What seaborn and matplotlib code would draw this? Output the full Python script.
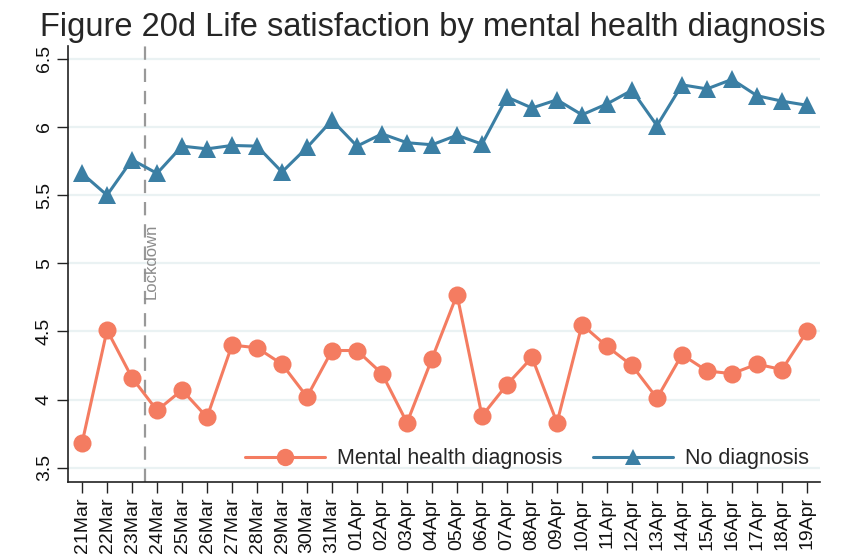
import matplotlib
matplotlib.use("Agg")
import matplotlib.pyplot as plt
import numpy as np
import pandas as pd
import seaborn as sns

# Daily dates (21 March - 19 April)
dates = ["21Mar", "22Mar", "23Mar", "24Mar", "25Mar", "26Mar", "27Mar", "28Mar",
         "29Mar", "30Mar", "31Mar", "01Apr", "02Apr", "03Apr", "04Apr", "05Apr",
         "06Apr", "07Apr", "08Apr", "09Apr", "10Apr", "11Apr", "12Apr", "13Apr",
         "14Apr", "15Apr", "16Apr", "17Apr", "18Apr", "19Apr"]

# Mean life satisfaction, respondents with a mental health diagnosis
mental_health = [3.68, 4.51, 4.16, 3.92, 4.07, 3.87, 4.40, 4.38, 4.26, 4.02,
                 4.36, 4.36, 4.19, 3.83, 4.30, 4.77, 3.88, 4.11, 4.31, 3.83,
                 4.55, 4.39, 4.25, 4.01, 4.33, 4.21, 4.19, 4.26, 4.22, 4.50]

# Mean life satisfaction, respondents with no diagnosis
no_diagnosis = [5.66, 5.50, 5.76, 5.66, 5.86, 5.84, 5.865, 5.86, 5.67, 5.85,
                6.05, 5.86, 5.95, 5.885, 5.87, 5.94, 5.875, 6.22, 6.14, 6.20,
                6.09, 6.17, 6.27, 6.01, 6.31, 6.28, 6.35, 6.23, 6.19, 6.16]

series_names = ["Mental health diagnosis", "No diagnosis"]
y_ticks = [3.5, 4, 4.5, 5, 5.5, 6, 6.5]
y_tick_labels = ["3.5", "4", "4.5", "5", "5.5", "6", "6.5"]
lockdown_pos = 2.5

orange = "#F47C61"
blue = "#3B7FA4"

sns.set_theme(style="white")
plt.rcParams["font.family"] = ["Liberation Sans", "DejaVu Sans"]

df = pd.DataFrame({
    "day": list(range(len(dates))) * 2,
    "value": mental_health + no_diagnosis,
    "group": [series_names[0]] * len(dates) + [series_names[1]] * len(dates),
})

fig = plt.figure(figsize=(8.43, 5.56), dpi=100)
ax = fig.add_axes([0.0807, 0.1331, 0.892, 0.7842])

for yt in y_ticks:
    ax.axhline(yt, color="#EAF2F3", lw=1.6, zorder=0)

sns.lineplot(data=df, x="day", y="value", hue="group", style="group",
             palette={series_names[0]: orange, series_names[1]: blue},
             markers={series_names[0]: "o", series_names[1]: "^"},
             dashes=False, lw=2.2, markersize=13, markeredgewidth=0,
             ax=ax, legend=False, zorder=3)

# Lockdown marker
ax.axvline(lockdown_pos, color="#999999", lw=1.6, ls=(0, (6, 4)), zorder=1)
ax.text(lockdown_pos - 0.04, 5.29, "Lockdown", rotation=90, ha="left", va="top",
        fontsize=12, color="#8C8C8C")

ax.set_xlim(-0.56, len(dates) - 1 + 0.52)
ax.set_ylim(3.395, 6.595)
ax.set_xticks(range(len(dates)))
ax.set_xticklabels(dates, rotation=90, fontsize=14)
ax.set_yticks(y_ticks)
ax.set_yticklabels(y_tick_labels, rotation=90, va="center", fontsize=14)
ax.set_xlabel("")
ax.set_ylabel("")

for side in ["top", "right"]:
    ax.spines[side].set_visible(False)
for side in ["left", "bottom"]:
    ax.spines[side].set_color("#222222")
    ax.spines[side].set_linewidth(1.2)
ax.tick_params(axis="both", which="both", direction="out", length=8, width=1,
               color="#222222", bottom=True, left=True, labelcolor="#111111", pad=3)

handles = [
    plt.Line2D([], [], color=orange, lw=2.2, marker="o", markersize=12.5, markeredgewidth=0),
    plt.Line2D([], [], color=blue, lw=2.2, marker="^", markersize=11.5, markeredgewidth=0),
]
ax.legend(handles, series_names, loc="center right", bbox_to_anchor=(0.985, 0.053),
          ncol=2, frameon=False, fontsize=15.5, handlelength=3.7,
          columnspacing=1.45, handletextpad=0.55, borderpad=0, borderaxespad=0)

fig.suptitle("Figure 20d Life satisfaction by mental health diagnosis",
             x=0.513, y=0.978, fontsize=23.5, va="top")

fig.savefig("out.png", dpi=100, facecolor="white")
